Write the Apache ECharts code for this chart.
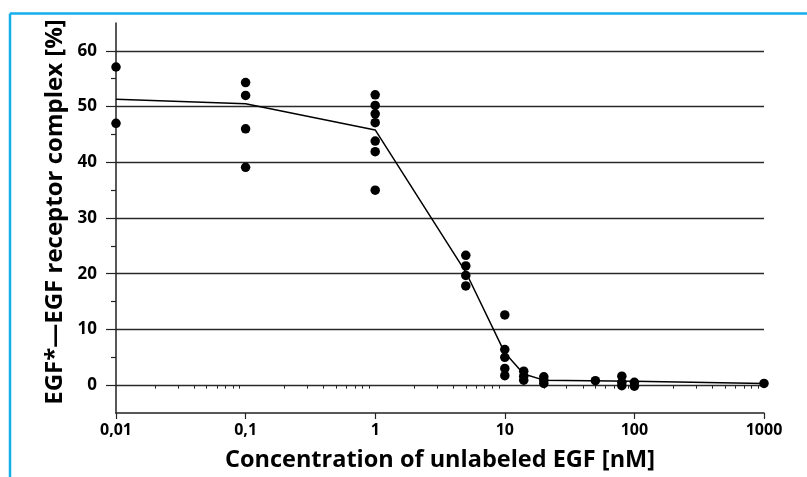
<!DOCTYPE html>
<html>
<head>
<meta charset="utf-8">
<script src="https://cdn.jsdelivr.net/npm/echarts@6/dist/echarts.min.js"></script>
<style>
html,body{margin:0;padding:0;background:#fff;}
#chart{width:807px;height:477px;}
</style>
</head>
<body>
<div id="chart"></div>
<script>
// Concentrations of unlabeled EGF [nM]
const concentrations = [0.01, 0.1, 1, 5, 10, 14, 20, 50, 80, 100, 1000];
// Measured EGF*-EGF receptor complex [%] at each concentration
const measured = [
  [57.1, 47.0],
  [54.3, 52.0, 46.0, 39.1],
  [52.1, 50.2, 48.7, 47.1, 43.8, 41.9, 35.0],
  [23.3, 21.4, 19.7, 17.8],
  [12.6, 6.4, 5.0, 3.0, 1.7],
  [2.5, 1.6, 0.9],
  [1.5, 0.9, 0.3],
  [0.8],
  [1.6, 0.5, -0.1],
  [0.5, -0.2],
  [0.3]
];
// Fitted curve
const fitX = [0.01, 0.1, 1, 5, 10, 14, 20, 100, 1000];
const fitY = [51.3, 50.5, 45.8, 20.3, 5.8, 2.0, 0.9, 0.7, 0.3];
// Tick values
const yMajorTicks = [0, 10, 20, 30, 40, 50, 60];
const yMinorTicks = [5, 15, 25, 35, 45, 55];
const xMinorTicks = [];
[0.01, 0.1, 1, 10, 100].forEach(d => { for (let k = 2; k <= 9; k++) xMinorTicks.push(+(d * k).toPrecision(3)); });

const dots = [];
concentrations.forEach((c, i) => measured[i].forEach(v => dots.push([c, v])));
const fitData = fitX.map((x, i) => [x, fitY[i]]);

const FONT = '"Open Sans", sans-serif';
const chart = echarts.init(document.getElementById('chart'), null, {renderer: 'canvas'});
chart.setOption({
  animation: false,
  backgroundColor: '#fff',
  graphic: [
    {type: 'line', shape: {x1: 10, y1: 13.5, x2: 807, y2: 13.5}, style: {stroke: '#14aeea', lineWidth: 2.5}, z: 100},
    {type: 'line', shape: {x1: 10, y1: 13.5, x2: 10, y2: 477}, style: {stroke: '#14aeea', lineWidth: 2.5}, z: 100}
  ],
  grid: {left: 116, right: 43, top: 23, bottom: 60.5},
  xAxis: [
    {
      type: 'log', logBase: 10, min: 0.01, max: 1000,
      name: 'Concentration of unlabeled EGF [nM]', nameLocation: 'middle', nameGap: 35,
      nameTextStyle: {fontFamily: FONT, fontSize: 23.5, fontWeight: 'bold', color: '#000'},
      axisLine: {show: true, onZero: false, lineStyle: {color: '#222', width: 1.5}},
      axisTick: {show: true, length: 6, lineStyle: {color: '#222', width: 1.2}},
      axisLabel: {fontFamily: FONT, fontSize: 16, fontWeight: 'bold', color: '#000', margin: 9,
        formatter: v => String(+(+v).toPrecision(3)).replace('.', ',')},
      splitLine: {show: false}, minorTick: {show: false}
    },
    {
      type: 'log', logBase: 10, min: 0.01, max: 1000, position: 'bottom',
      axisLine: {show: false},
      axisTick: {show: true, length: 3.5, customValues: xMinorTicks, lineStyle: {color: '#222', width: 1}},
      axisLabel: {show: false}, splitLine: {show: false}
    }
  ],
  yAxis: [
    {
      type: 'value', min: -5, max: 65,
      name: 'EGF*\u2014EGF receptor complex [%]', nameLocation: 'middle', nameGap: 49,
      nameTextStyle: {fontFamily: FONT, fontSize: 24, fontWeight: 'bold', color: '#000', padding: [0, 0, 0, 12]},
      axisLine: {show: true, onZero: false, lineStyle: {color: '#222', width: 1.5}},
      axisTick: {show: true, length: 10, customValues: yMajorTicks, lineStyle: {color: '#222', width: 1.2}},
      axisLabel: {fontFamily: FONT, fontSize: 17, fontWeight: 'bold', color: '#000', margin: 19, customValues: yMajorTicks},
      splitLine: {show: true, lineStyle: {color: '#2a2a2a', width: 1.4}}
    },
    {
      type: 'value', min: -5, max: 65, position: 'left',
      axisLine: {show: false},
      axisTick: {show: true, length: 5, customValues: yMinorTicks, lineStyle: {color: '#222', width: 1.2}},
      axisLabel: {show: false}, splitLine: {show: false}
    }
  ],
  series: [
    {
      type: 'line', data: fitData, xAxisIndex: 0, yAxisIndex: 0,
      symbol: 'none', lineStyle: {color: '#000', width: 1.5}, z: 3
    },
    {
      type: 'scatter', data: dots, xAxisIndex: 0, yAxisIndex: 0,
      symbol: 'circle', symbolSize: 9.5, itemStyle: {color: '#000', opacity: 1}, z: 4
    }
  ]
});
</script>
</body>
</html>
